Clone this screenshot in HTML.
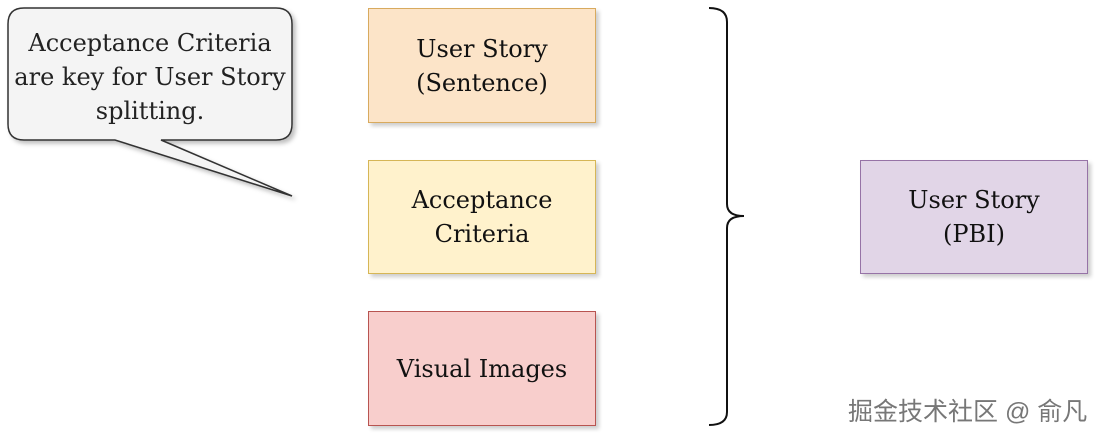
<!DOCTYPE html>
<html><head><meta charset="utf-8"><style>
body{margin:0;width:1100px;height:439px;background:#fff;overflow:hidden;position:relative;font-family:"DejaVu Serif","Liberation Serif",serif;}
.b{position:absolute;box-sizing:border-box;display:flex;align-items:center;justify-content:center;text-align:center;font-size:24px;line-height:34px;color:#111;box-shadow:3px 3px 4px rgba(0,0,0,0.2);}
</style></head><body>
<svg width="1100" height="439" style="position:absolute;left:0;top:0">
<defs><filter id="s" x="-10%" y="-10%" width="130%" height="130%"><feDropShadow dx="3" dy="3" stdDeviation="2" flood-opacity="0.25"/></filter></defs>
<path d="M24,8 H276 Q292,8 292,24 V124 Q292,140 276,140 H161 L292,196 L115,140 H24 Q8,140 8,124 V24 Q8,8 24,8 Z" fill="#f4f4f4" stroke="#333" stroke-width="1.5" filter="url(#s)"/>
<path d="M709,8 Q727,8 727,22 V204 Q727,216 744,216 Q727,216 727,228 V412 Q727,425 709,425" fill="none" stroke="#111" stroke-width="2"/>
</svg>
<div style="position:absolute;left:0px;top:26px;width:300px;text-align:center;font-size:24px;line-height:34px;color:#222;white-space:nowrap">Acceptance Criteria<br>are key for User Story<br>splitting.</div>
<div class="b" style="left:368px;top:8px;width:228px;height:115px;background:#fce4c8;border:1.5px solid #d8aa5e">User Story<br>(Sentence)</div>
<div class="b" style="left:368px;top:160px;width:228px;height:114px;background:#fff2cc;border:1.5px solid #d6b656">Acceptance<br>Criteria</div>
<div class="b" style="left:368px;top:311px;width:228px;height:115px;background:#f8cecc;border:1.5px solid #b85450">Visual Images</div>
<div class="b" style="left:860px;top:160px;width:228px;height:114px;background:#e1d5e7;border:1.5px solid #9673a6">User Story<br>(PBI)</div>
<div style="position:absolute;left:848px;top:392px;font-family:'Liberation Sans','Noto Sans CJK SC',sans-serif;font-size:25px;color:#777;white-space:nowrap">掘金技术社区 @ 俞凡</div>
</body></html>
